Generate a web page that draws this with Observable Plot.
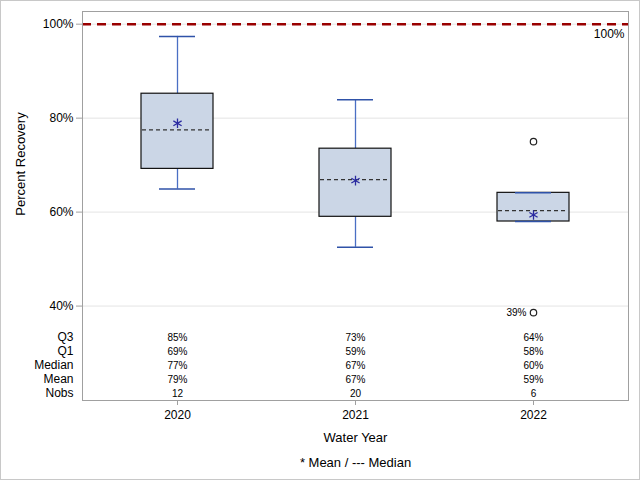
<!DOCTYPE html>
<html>
<head>
<meta charset="utf-8">
<script src="https://cdn.jsdelivr.net/npm/d3@7"></script>
<script src="https://cdn.jsdelivr.net/npm/@observablehq/plot@0.6"></script>
<style>
  html, body { margin: 0; padding: 0; background: #fff; }
  #chart svg { display: block; outline: 1px solid #c8c8c8; outline-offset: -1px; }
</style>
</head>
<body>
<div id="chart"></div>
<script>
const years = ["2020", "2021", "2022"];
const q1 = [69.2, 59.0, 58.0];
const q3 = [85.2, 73.5, 64.1];
const median = [77.5, 66.9, 60.3];
const mean = [78.9, 66.7, 59.4];
const whiskerLow = [64.9, 52.5, 58.0];
const whiskerHigh = [97.4, 83.9, 64.1];
const nobs = [12, 20, 6];

const tableQ3 = ["85%", "73%", "64%"];
const tableQ1 = ["69%", "59%", "58%"];
const tableMedian = ["77%", "67%", "60%"];
const tableMean = ["79%", "67%", "59%"];
const tableNobs = ["12", "20", "6"];

const outlierYears = ["2022", "2022"];
const outlierValues = [75.0, 38.6];
const outlierLabels = ["", "39%"];

const yTicks = [40, 60, 80, 100];
const refValue = 100;

const stats = years.map((year, i) => ({
  year, q1: q1[i], q3: q3[i], median: median[i], mean: mean[i],
  lo: whiskerLow[i], hi: whiskerHigh[i]
}));
const outliers = outlierYears.map((year, i) => ({year, value: outlierValues[i], label: outlierLabels[i]}));

const tableRows = [
  {name: "Q3", values: tableQ3},
  {name: "Q1", values: tableQ1},
  {name: "Median", values: tableMedian},
  {name: "Mean", values: tableMean},
  {name: "Nobs", values: tableNobs}
];

const font = "Liberation Sans, Arial, sans-serif";
const whiskerColor = "#4a6fc4";
const capColor = "#2f52a8";

const tableMarks = [];
tableRows.forEach((row, r) => {
  const dy = -63 + r * 14;
  tableMarks.push(Plot.text(years.map((y, i) => ({year: y, t: row.values[i]})), {
    x: "year", text: "t", frameAnchor: "bottom", lineAnchor: "middle", dy, fontSize: 10, fill: "#000"
  }));
  tableMarks.push(Plot.text([row.name], {
    frameAnchor: "bottom-left", lineAnchor: "middle", dx: -9, dy, textAnchor: "end", fontSize: 12, fill: "#000"
  }));
});

const chart = Plot.plot({
  width: 640,
  height: 480,
  marginLeft: 82,
  marginRight: 12,
  marginTop: 11,
  marginBottom: 80,
  style: {fontFamily: font, background: "#fff", color: "#000"},
  x: {domain: years, paddingInner: 0.595, paddingOuter: 0.331, label: null},
  y: {domain: [19.9, 102.7], label: null},
  marks: [
    Plot.gridY(yTicks, {stroke: "#e4e4e4", strokeOpacity: 1}),
    Plot.ruleY([refValue], {stroke: "#990000", strokeWidth: 2.5, strokeDasharray: "9,6"}),
    Plot.text(["100%"], {frameAnchor: "top-right", lineAnchor: "middle", dx: -4, dy: 23, textAnchor: "end", fontSize: 12, fill: "#000"}),
    Plot.ruleX(stats, {x: "year", y1: "lo", y2: "q1", stroke: whiskerColor, strokeWidth: 1.3}),
    Plot.ruleX(stats, {x: "year", y1: "q3", y2: "hi", stroke: whiskerColor, strokeWidth: 1.3}),
    Plot.barY(stats, {x: "year", y1: "q1", y2: "q3", fill: "#cbd6e6", stroke: "#111", strokeWidth: 1.2}),
    Plot.tickY(stats, {x: "year", y: "hi", stroke: capColor, strokeWidth: 1.5, insetLeft: 18, insetRight: 18}),
    Plot.tickY(stats, {x: "year", y: "lo", stroke: capColor, strokeWidth: 1.5, insetLeft: 18, insetRight: 18}),
    Plot.tickY(stats, {x: "year", y: "median", stroke: "#333", strokeWidth: 1.2, strokeDasharray: "4,3", insetLeft: 1, insetRight: 1}),
    Plot.dot(stats, {x: "year", y: "mean", symbol: "asterisk", r: 4.5, stroke: "#2a2aa0", strokeWidth: 1.3}),
    Plot.dot(outliers, {x: "year", y: "value", symbol: "circle", r: 3.2, stroke: "#222", strokeWidth: 1.2, fill: "none"}),
    Plot.text(outliers.filter(d => d.label), {x: "year", y: "value", text: "label", dx: -7, textAnchor: "end", fontSize: 10, fill: "#000"}),
    ...tableMarks,
    Plot.frame({stroke: "#a0a0a0"}),
    Plot.axisY(yTicks, {tickFormat: d => d + "%", tickSize: 6, tickPadding: 3, fontSize: 12, stroke: "#a0a0a0", label: null}),
    Plot.axisX({tickSize: 5, tickPadding: 5, fontSize: 12, stroke: "#a0a0a0", label: null}),
    Plot.text(["Percent Recovery"], {frameAnchor: "left", textAnchor: "middle", lineAnchor: "middle", rotate: -90, dx: -62, dy: -42, fontSize: 13, fill: "#000"}),
    Plot.text(["Water Year"], {frameAnchor: "bottom", lineAnchor: "middle", dy: 37, fontSize: 13, fill: "#000"}),
    Plot.text(["* Mean / --- Median"], {frameAnchor: "bottom", lineAnchor: "middle", dy: 62, fontSize: 13, fill: "#000"})
  ]
});
document.getElementById("chart").append(chart);
</script>
</body>
</html>
